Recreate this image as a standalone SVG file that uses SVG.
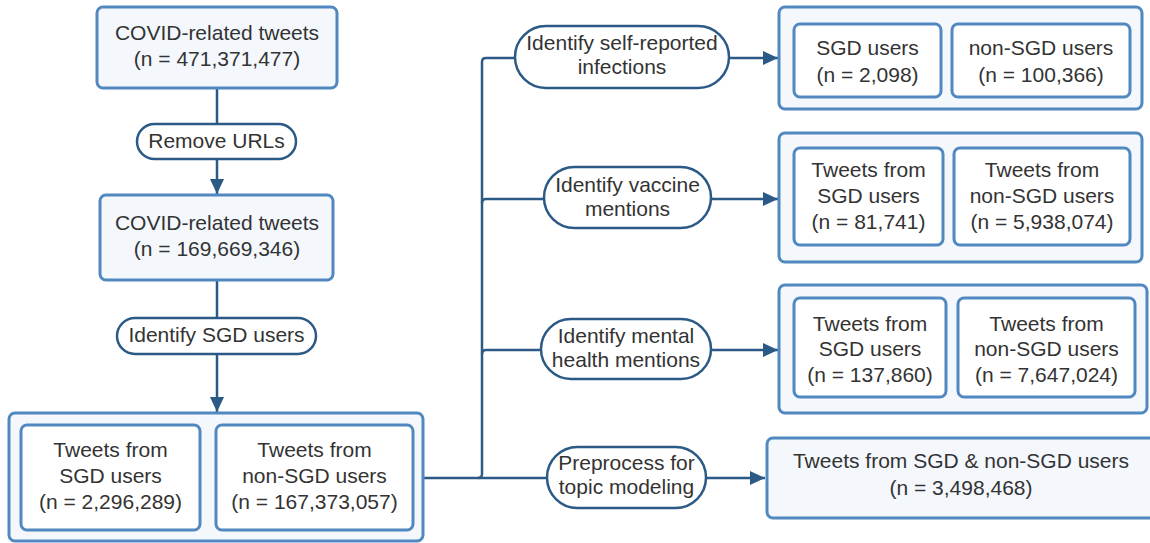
<svg xmlns="http://www.w3.org/2000/svg" width="1150" height="543" viewBox="0 0 1150 543">
<defs>
<style>
.box{fill:#f4f8fd;stroke:#5188c0;stroke-width:3}
.inner{fill:#ffffff;stroke:#5188c0;stroke-width:3}
.pill{fill:#ffffff;stroke:#2c5a86;stroke-width:2.5}
.con{fill:none;stroke:#2c5a86;stroke-width:2.5}
text{font-family:"Liberation Sans",Arial,sans-serif;font-size:21px;fill:#333333;text-anchor:middle}
</style>
<marker id="arr" markerUnits="userSpaceOnUse" markerWidth="16" markerHeight="14" refX="15" refY="7" orient="auto">
<path d="M0,0 L15,7 L0,14 Z" fill="#2c5a86"/>
</marker>
</defs>
<rect width="1150" height="543" fill="#ffffff"/>

<g id="connectors">
<path class="con" d="M217,88 V124"/>
<path class="con" d="M217,159 V194" marker-end="url(#arr)"/>
<path class="con" d="M217,280 V318"/>
<path class="con" d="M217,354 V412" marker-end="url(#arr)"/>
<path class="con" d="M423,478 H547"/>
<path class="con" d="M478,478 Q482,478 482,474 V62 Q482,58 486,58 H515"/>
<path class="con" d="M482,203 Q482,199 486,199 H544"/>
<path class="con" d="M482,354 Q482,350 486,350 H541"/>
<path class="con" d="M729,58 H778" marker-end="url(#arr)"/>
<path class="con" d="M711,199 H778" marker-end="url(#arr)"/>
<path class="con" d="M711,350 H778" marker-end="url(#arr)"/>
<path class="con" d="M706,478 H765" marker-end="url(#arr)"/>
</g>

<g id="covid-all">
<rect class="box" x="97" y="7" width="240" height="81" rx="6"/>
<text x="217" y="40">COVID-related tweets</text>
<text x="217" y="66">(n = 471,371,477)</text>
</g>

<g id="remove-urls">
<rect class="pill" x="137" y="124" width="159" height="35" rx="17.5"/>
<text x="216.5" y="148">Remove URLs</text>
</g>

<g id="covid-nourl">
<rect class="box" x="100" y="195" width="233" height="85" rx="6"/>
<text x="217" y="230">COVID-related tweets</text>
<text x="217" y="256">(n = 169,669,346)</text>
</g>

<g id="identify-sgd">
<rect class="pill" x="117" y="318" width="199" height="36" rx="18"/>
<text x="216.5" y="342">Identify SGD users</text>
</g>

<g id="split-all">
<rect class="box" x="9" y="413" width="414" height="128" rx="6"/>
<g id="split-sgd">
<rect class="inner" x="21" y="425" width="179" height="105" rx="6"/>
<text x="110.5" y="457">Tweets from</text>
<text x="110.5" y="483">SGD users</text>
<text x="110.5" y="509">(n = 2,296,289)</text>
</g>
<g id="split-nonsgd">
<rect class="inner" x="216" y="425" width="197" height="105" rx="6"/>
<text x="314.5" y="457">Tweets from</text>
<text x="314.5" y="483">non-SGD users</text>
<text x="314.5" y="509">(n = 167,373,057)</text>
</g>
</g>

<g id="pill-infections">
<rect class="pill" x="515" y="26" width="214" height="62" rx="31"/>
<text x="622" y="50">Identify self-reported</text>
<text x="622" y="74">infections</text>
</g>

<g id="pill-vaccine">
<rect class="pill" x="544" y="167" width="167" height="61" rx="30.5"/>
<text x="627.5" y="192">Identify vaccine</text>
<text x="627.5" y="216">mentions</text>
</g>

<g id="pill-mental">
<rect class="pill" x="541" y="319" width="170" height="60" rx="30"/>
<text x="626" y="343">Identify mental</text>
<text x="626" y="367">health mentions</text>
</g>

<g id="pill-topic">
<rect class="pill" x="547" y="447" width="159" height="61" rx="30.5"/>
<text x="626.5" y="470">Preprocess for</text>
<text x="626.5" y="494">topic modeling</text>
</g>

<g id="infections-result">
<rect class="box" x="779" y="7" width="363" height="102" rx="6"/>
<g id="inf-sgd">
<rect class="inner" x="794" y="24" width="147" height="73" rx="6"/>
<text x="867.5" y="55">SGD users</text>
<text x="867.5" y="82">(n = 2,098)</text>
</g>
<g id="inf-nonsgd">
<rect class="inner" x="952" y="24" width="178" height="73" rx="6"/>
<text x="1041" y="55">non-SGD users</text>
<text x="1041" y="82">(n = 100,366)</text>
</g>
</g>

<g id="vaccine-result">
<rect class="box" x="779" y="133" width="363" height="129" rx="6"/>
<g id="vac-sgd">
<rect class="inner" x="794" y="148" width="149" height="97" rx="6"/>
<text x="868.5" y="177">Tweets from</text>
<text x="868.5" y="203">SGD users</text>
<text x="868.5" y="229">(n = 81,741)</text>
</g>
<g id="vac-nonsgd">
<rect class="inner" x="954" y="148" width="176" height="97" rx="6"/>
<text x="1042" y="177">Tweets from</text>
<text x="1042" y="203">non-SGD users</text>
<text x="1042" y="229">(n = 5,938,074)</text>
</g>
</g>

<g id="mental-result">
<rect class="box" x="779" y="285" width="368" height="128" rx="6"/>
<g id="men-sgd">
<rect class="inner" x="794" y="298" width="152" height="99" rx="6"/>
<text x="870" y="331">Tweets from</text>
<text x="870" y="356">SGD users</text>
<text x="870" y="382">(n = 137,860)</text>
</g>
<g id="men-nonsgd">
<rect class="inner" x="958" y="298" width="177" height="99" rx="6"/>
<text x="1046.5" y="331">Tweets from</text>
<text x="1046.5" y="356">non-SGD users</text>
<text x="1046.5" y="382">(n = 7,647,024)</text>
</g>
</g>

<g id="topic-result">
<rect class="box" x="767" y="438" width="391" height="80" rx="6"/>
<text x="961" y="468">Tweets from SGD &amp; non-SGD users</text>
<text x="961" y="495">(n = 3,498,468)</text>
</g>
</svg>
